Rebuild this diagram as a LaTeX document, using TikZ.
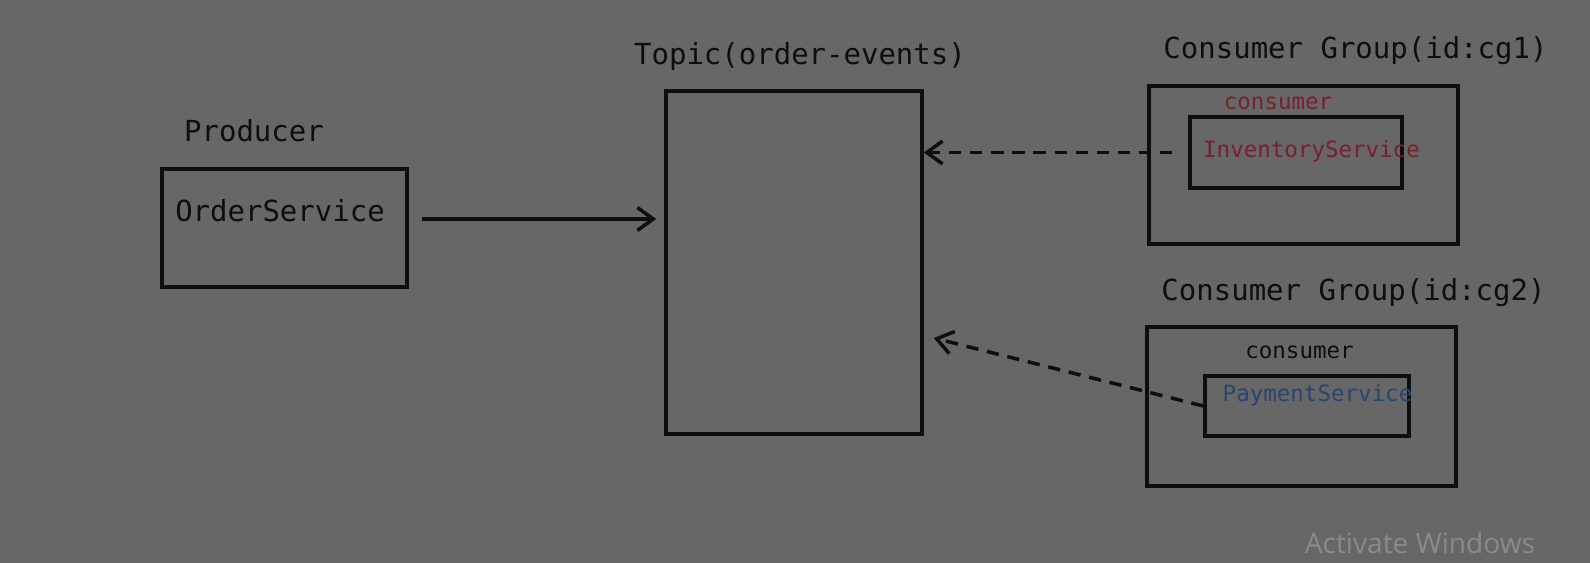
\documentclass[tikz,border=0pt]{standalone}
\usepackage{fontspec}
\setmonofont{DejaVu Sans Mono}
\newfontfamily\wmfont{Open Sans}
\usetikzlibrary{arrows.meta,positioning}
\definecolor{bg}{RGB}{103,103,103}
\definecolor{ink}{RGB}{14,14,14}
\definecolor{redtx}{RGB}{122,32,42}
\definecolor{bluetx}{RGB}{40,70,112}
\definecolor{wmark}{RGB}{138,138,138}

\begin{document}
\begin{tikzpicture}[
  ink,
  every node/.style={inner sep=0pt},
  title/.style={font=\ttfamily\fontsize{16.5}{18}\selectfont},
  small/.style={font=\ttfamily\fontsize{12.8}{14}\selectfont},
  box/.style={draw=ink, line width=2pt},
  flow/.style={-{Straight Barb[length=9pt,width=13pt]}, line width=2pt, draw=ink},
  pull/.style={flow, dash pattern=on 7pt off 5pt},
]
\useasboundingbox[fill=bg] (0,0) rectangle (31.8,11.26);

%% ---- Producer ----
\node[title] (prodlbl) at (5.08,8.64) {Producer};
\node[box, minimum width=4.9cm, minimum height=2.36cm] (order) at (5.69,6.70) {};
\node[title] (ordertx) at (5.6,7.04) {OrderService};

%% ---- Topic ----
\node[title] (topiclbl) at (16.0,10.12) {Topic(order-events)};
\node[box, minimum width=5.12cm, minimum height=6.86cm] (topic) at (15.88,6.01) {};

%% ---- Consumer group cg1 ----
\node[title] (cg1lbl) at (27.11,10.24) {Consumer Group(id:cg1)};
\node[box, minimum width=6.18cm, minimum height=3.16cm] (cg1) at (26.07,7.96) {};
\node[small, redtx] (cons1) at (25.56,9.2) {consumer};
\node[box, minimum width=4.24cm, minimum height=1.42cm] (inv) at (25.92,8.21) {};
\node[small, redtx] (invtx) at (26.23,8.24) {InventoryService};

%% ---- Consumer group cg2 ----
\node[title] (cg2lbl) at (27.07,5.4) {Consumer Group(id:cg2)};
\node[box, minimum width=6.18cm, minimum height=3.18cm] (cg2) at (26.03,3.13) {};
\node[small] (cons2) at (25.99,4.22) {consumer};
\node[box, minimum width=4.08cm, minimum height=1.2cm] (pay) at (26.14,3.14) {};
\node[small, bluetx] (paytx) at (26.35,3.36) {PaymentService};

%% ---- connectors ----
\draw[flow, shorten <=.26cm, shorten >=.16cm]
  ([yshift=.18cm]order.east) -- ([yshift=.18cm]order.east -| topic.west);
\draw[pull, shorten <=.32cm] (inv.west) -- (inv.west -| topic.east);
\coordinate (tip2) at ([xshift=.2cm,yshift=-1.51cm]topic.east);
\draw[pull] (pay.west) -- (tip2);

%% ---- watermark ----
\node[font=\wmfont\fontsize{16}{18}\selectfont, wmark] (wm) at (28.4,0.4) {Activate Windows};

\end{tikzpicture}
\end{document}
